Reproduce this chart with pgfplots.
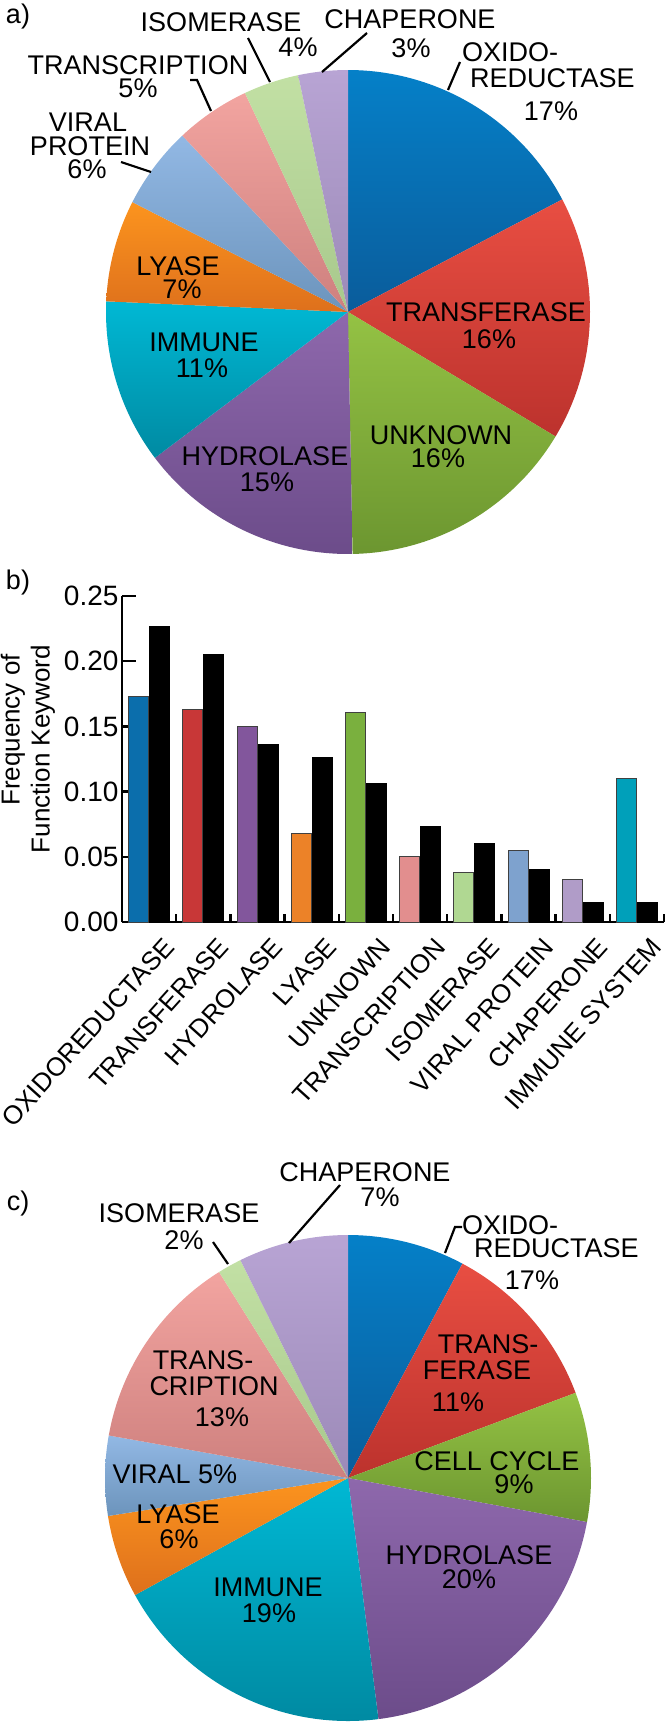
\documentclass[border=0pt]{standalone}
\usepackage{pgfplots}
\usepackage{pgfplotstable}
\pgfplotsset{compat=1.18}
\usepackage{fontspec}
\setmainfont{Liberation Sans}

% pie colours (top / bottom of gradient)
\definecolor{blueT}{RGB}{5,128,200}\definecolor{blueB}{RGB}{10,92,155}
\definecolor{redT}{RGB}{232,78,66}\definecolor{redB}{RGB}{188,50,45}
\definecolor{greenT}{RGB}{148,194,68}\definecolor{greenB}{RGB}{108,150,48}
\definecolor{purpleT}{RGB}{142,104,172}\definecolor{purpleB}{RGB}{108,76,138}
\definecolor{cyanT}{RGB}{0,184,212}\definecolor{cyanB}{RGB}{0,138,162}
\definecolor{orangeT}{RGB}{252,148,30}\definecolor{orangeB}{RGB}{222,112,28}
\definecolor{lblueT}{RGB}{146,184,228}\definecolor{lblueB}{RGB}{108,148,188}
\definecolor{pinkT}{RGB}{242,164,160}\definecolor{pinkB}{RGB}{206,128,126}
\definecolor{lgreenT}{RGB}{194,224,164}\definecolor{lgreenB}{RGB}{168,200,140}
\definecolor{lavT}{RGB}{184,164,212}\definecolor{lavB}{RGB}{156,138,184}
% bar colours
\definecolor{bBlue}{RGB}{11,110,172}
\definecolor{bRed}{RGB}{200,55,55}
\definecolor{bPurple}{RGB}{130,86,156}
\definecolor{bOrange}{RGB}{236,130,40}
\definecolor{bGreen}{RGB}{122,176,62}
\definecolor{bPink}{RGB}{226,142,142}
\definecolor{bLGreen}{RGB}{176,216,146}
\definecolor{bLBlue}{RGB}{126,162,206}
\definecolor{bLav}{RGB}{176,156,200}
\definecolor{bCyan}{RGB}{0,160,186}

\newcommand{\lab}{\fontsize{27}{27}\selectfont}
\newcommand{\txt}[3]{\node[font=\lab, inner sep=0pt] at (#1pt,-#2pt) {#3};}
\newcommand{\txtw}[3]{\node[font=\lab, inner sep=0pt, anchor=west] at (#1pt,-#2pt) {#3};}

% one pie slice: value (percent), top colour, bottom colour; clockwise from 12 o'clock
\newcommand{\pieslice}[3]{%
  \pgfmathsetmacro{\pA}{90-3.6*\piecum}%
  \pgfmathsetmacro{\newcum}{\piecum+#1}%
  \pgfmathsetmacro{\pB}{90-3.6*\newcum}%
  \xdef\piecum{\newcum}%
  \edef\doslice{\noexpand\addplot[draw=none, top color=#2, bottom color=#3,
     domain=\pB:\pA, samples=90, variable=\noexpand\t]
     ({cos(\noexpand\t)},{sin(\noexpand\t)}) -- (axis cs:0,0) -- cycle;}%
  \doslice
}

\pgfplotstableread{
x y
0 0.227
1 0.205
2 0.136
3 0.126
4 0.106
5 0.073
6 0.060
7 0.040
8 0.015
9 0.015
}\blackdata

\begin{document}
\begin{tikzpicture}
\useasboundingbox (0,0) rectangle (667pt,-1723pt);

% ---------------- pie a ----------------
\begin{axis}[at={(348pt,-312pt)}, anchor=center, hide axis,
  x=242pt, y=242pt, xmin=-1, xmax=1, ymin=-1, ymax=1, clip=false]
\gdef\piecum{0}
\pieslice{17.3}{blueT}{blueB}
\pieslice{16.3}{redT}{redB}
\pieslice{16.1}{greenT}{greenB}
\pieslice{15.0}{purpleT}{purpleB}
\pieslice{11.0}{cyanT}{cyanB}
\pieslice{6.8}{orangeT}{orangeB}
\pieslice{5.5}{lblueT}{lblueB}
\pieslice{5.0}{pinkT}{pinkB}
\pieslice{3.7}{lgreenT}{lgreenB}
\pieslice{3.3}{lavT}{lavB}
\end{axis}

% ---------------- bar chart b ----------------
\begin{axis}[at={(122pt,-922pt)}, anchor=south west,
  x=54.2pt, y=1304pt, xmin=-0.5, xmax=9.5, ymin=0, ymax=0.25,
  axis lines*=left,
  axis line style={line width=2.5pt, black},
  tick align=inside,
  tick style={line width=2.5pt, black},
  major tick length=14pt, minor tick length=8pt,
  xtick={0,1,2,3,4,5,6,7,8,9},
  minor xtick={0.5,1.5,2.5,3.5,4.5,5.5,6.5,7.5,8.5,9.5},
  major x tick style={draw=none},
  xticklabels={OXIDOREDUCTASE,TRANSFERASE,HYDROLASE,LYASE,UNKNOWN,TRANSCRIPTION,ISOMERASE,VIRAL PROTEIN,CHAPERONE,IMMUNE SYSTEM},
  xticklabel style={font=\fontsize{26}{26}\selectfont, inner sep=0pt, xshift=20pt, yshift=-20pt, rotate=48, anchor=east},
  ytick={0,0.05,0.1,0.15,0.2,0.25},
  yticklabel style={font=\fontsize{28}{28}\selectfont, /pgf/number format/.cd, fixed, fixed zerofill, precision=2},
  /pgf/number format/assume math mode=true,
  clip=false]
\addplot[ybar, bar width=20pt, bar shift=-10.5pt, fill=bBlue, draw=black!75, line width=0.8pt] coordinates {(0,0.173)};
\addplot[ybar, bar width=20pt, bar shift=-10.5pt, fill=bRed, draw=black!75, line width=0.8pt] coordinates {(1,0.163)};
\addplot[ybar, bar width=20pt, bar shift=-10.5pt, fill=bPurple, draw=black!75, line width=0.8pt] coordinates {(2,0.150)};
\addplot[ybar, bar width=20pt, bar shift=-10.5pt, fill=bOrange, draw=black!75, line width=0.8pt] coordinates {(3,0.068)};
\addplot[ybar, bar width=20pt, bar shift=-10.5pt, fill=bGreen, draw=black!75, line width=0.8pt] coordinates {(4,0.161)};
\addplot[ybar, bar width=20pt, bar shift=-10.5pt, fill=bPink, draw=black!75, line width=0.8pt] coordinates {(5,0.050)};
\addplot[ybar, bar width=20pt, bar shift=-10.5pt, fill=bLGreen, draw=black!75, line width=0.8pt] coordinates {(6,0.038)};
\addplot[ybar, bar width=20pt, bar shift=-10.5pt, fill=bLBlue, draw=black!75, line width=0.8pt] coordinates {(7,0.055)};
\addplot[ybar, bar width=20pt, bar shift=-10.5pt, fill=bLav, draw=black!75, line width=0.8pt] coordinates {(8,0.033)};
\addplot[ybar, bar width=20pt, bar shift=-10.5pt, fill=bCyan, draw=black!75, line width=0.8pt] coordinates {(9,0.110)};
\addplot[ybar, bar width=20pt, bar shift=10.5pt, fill=black, draw=black, line width=0.8pt] table[x=x, y=y] {\blackdata};
\end{axis}
% y axis title (two lines)
\node[font=\fontsize{26}{26}\selectfont, inner sep=0pt, rotate=90] at (13pt,-730pt) {Frequency of};
\node[font=\fontsize{26}{26}\selectfont, inner sep=0pt, rotate=90] at (43pt,-749pt) {Function Keyword};

% ---------------- pie c ----------------
\begin{axis}[at={(348pt,-1478pt)}, anchor=center, hide axis,
  x=243pt, y=243pt, xmin=-1, xmax=1, ymin=-1, ymax=1, clip=false]
\gdef\piecum{0}
\pieslice{7.8}{blueT}{blueB}
\pieslice{11.5}{redT}{redB}
\pieslice{8.6}{greenT}{greenB}
\pieslice{20.1}{purpleT}{purpleB}
\pieslice{19.0}{cyanT}{cyanB}
\pieslice{5.5}{orangeT}{orangeB}
\pieslice{5.3}{lblueT}{lblueB}
\pieslice{13.3}{pinkT}{pinkB}
\pieslice{1.6}{lgreenT}{lgreenB}
\pieslice{7.3}{lavT}{lavB}
\end{axis}

% ---------------- labels pie a ----------------
\txt{18}{17}{a)}
\txt{221}{22}{ISOMERASE}
\txt{298}{47}{4\%}
\txt{410}{19}{CHAPERONE}
\txt{411}{48}{3\%}
\txtw{462}{52}{OXIDO-}
\txtw{470}{78}{REDUCTASE}
\txt{551}{111}{17\%}
\txt{138}{65}{TRANSCRIPTION}
\txt{138}{88}{5\%}
\txt{88}{122}{VIRAL}
\txt{90}{146}{PROTEIN}
\txt{87}{169}{6\%}
\txt{178}{266}{LYASE}
\txt{182}{289}{7\%}
\txt{204}{342}{IMMUNE}
\txt{202}{368}{11\%}
\txt{265}{456}{HYDROLASE}
\txt{267}{482}{15\%}
\txt{441}{435}{UNKNOWN}
\txt{438}{458}{16\%}
\txt{486}{312}{TRANSFERASE}
\txt{489}{339}{16\%}
\draw[line width=2.2pt] (460pt,-62pt) -- (448pt,-90pt);
\draw[line width=2.2pt] (367pt,-33pt) -- (322pt,-72pt);
\draw[line width=2.2pt] (248pt,-38pt) -- (270pt,-82pt);
\draw[line width=2.2pt] (190pt,-80pt) -- (197pt,-80pt) -- (211pt,-111pt);
\draw[line width=2.2pt] (121pt,-162pt) -- (151pt,-172pt);

% ---------------- label b ----------------
\txt{18}{583}{b)}

% ---------------- labels pie c ----------------
\txt{18}{1203}{c)}
\txt{365}{1172}{CHAPERONE}
\txt{380}{1197}{7\%}
\txt{179}{1213}{ISOMERASE}
\txt{184}{1240}{2\%}
\txtw{462}{1225}{OXIDO-}
\txtw{474}{1248}{REDUCTASE}
\txt{532}{1280}{17\%}
\txt{488}{1344}{TRANS-}
\txt{477}{1370}{FERASE}
\txt{458}{1402}{11\%}
\txt{497}{1461}{CELL CYCLE}
\txt{514}{1484}{9\%}
\txt{469}{1555}{HYDROLASE}
\txt{469}{1579}{20\%}
\txt{268}{1587}{IMMUNE}
\txt{269}{1613}{19\%}
\txt{178}{1514}{LYASE}
\txt{179}{1539}{6\%}
\txt{175}{1474}{VIRAL 5\%}
\txt{203}{1360}{TRANS-}
\txt{214}{1386}{CRIPTION}
\txt{222}{1417}{13\%}
\draw[line width=2.2pt] (340pt,-1185pt) -- (289pt,-1243pt);
\draw[line width=2.2pt] (213pt,-1242pt) -- (228pt,-1264pt);
\draw[line width=2.2pt] (462pt,-1227pt) -- (455pt,-1227pt) -- (445pt,-1253pt);
\end{tikzpicture}
\end{document}
